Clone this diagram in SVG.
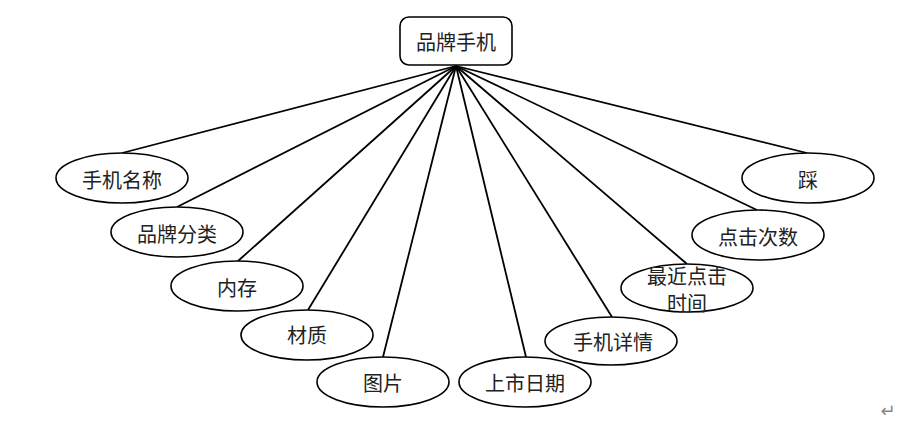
<svg xmlns="http://www.w3.org/2000/svg" width="920" height="429" viewBox="0 0 920 429">
<style>
.n{fill:#fff;stroke:#000;stroke-width:1.6}
.t{font-family:"Noto Sans CJK SC","Noto Sans",sans-serif;font-size:20px;fill:#222;text-anchor:middle;dominant-baseline:central}
.c line{stroke:#000;stroke-width:1.8}
</style>
<rect width="920" height="429" fill="#fff"/>
<g class="c" id="connectors">
<line x1="456" y1="66" x2="122" y2="153"/>
<line x1="456" y1="66" x2="177" y2="207"/>
<line x1="456" y1="66" x2="238" y2="261"/>
<line x1="456" y1="66" x2="308" y2="310"/>
<line x1="456" y1="66" x2="383" y2="357"/>
<line x1="456" y1="66" x2="526" y2="357"/>
<line x1="456" y1="66" x2="612" y2="317"/>
<line x1="456" y1="66" x2="687" y2="264"/>
<line x1="456" y1="66" x2="757" y2="210"/>
<line x1="456" y1="66" x2="807" y2="153"/>
</g>
<g id="root"><rect class="n" x="400" y="17" width="112" height="48" rx="9"/><text class="t" x="456" y="41" font-size="21">品牌手机</text></g>
<g id="n1"><ellipse class="n" cx="122" cy="178" rx="66" ry="25"/><text class="t" x="122" y="179">手机名称</text></g>
<g id="n2"><ellipse class="n" cx="177" cy="232" rx="66" ry="25"/><text class="t" x="177" y="233">品牌分类</text></g>
<g id="n3"><ellipse class="n" cx="237" cy="286" rx="66" ry="25"/><text class="t" x="237" y="287">内存</text></g>
<g id="n4"><ellipse class="n" cx="307" cy="335" rx="66" ry="25"/><text class="t" x="307" y="334">材质</text></g>
<g id="n5"><ellipse class="n" cx="383" cy="382" rx="66" ry="25"/><text class="t" x="383" y="382">图片</text></g>
<g id="n6"><ellipse class="n" cx="525" cy="382" rx="66" ry="25"/><text class="t" x="525" y="382">上市日期</text></g>
<g id="n7"><ellipse class="n" cx="611" cy="341" rx="66" ry="24"/><text class="t" x="613" y="341">手机详情</text></g>
<g id="n8"><ellipse class="n" cx="687" cy="288" rx="66" ry="24"/><text class="t" x="687" y="275" font-size="19">最近点击</text><text class="t" x="687" y="302" font-size="19">时间</text></g>
<g id="n9"><ellipse class="n" cx="758" cy="235" rx="66" ry="25"/><text class="t" x="758" y="236">点击次数</text></g>
<g id="n10"><ellipse class="n" cx="808" cy="178" rx="66" ry="25"/><text class="t" x="808" y="179">踩</text></g>
<text x="888" y="417" font-family="DejaVu Sans,sans-serif" font-size="18" fill="#888" text-anchor="middle">↵</text>
</svg>
